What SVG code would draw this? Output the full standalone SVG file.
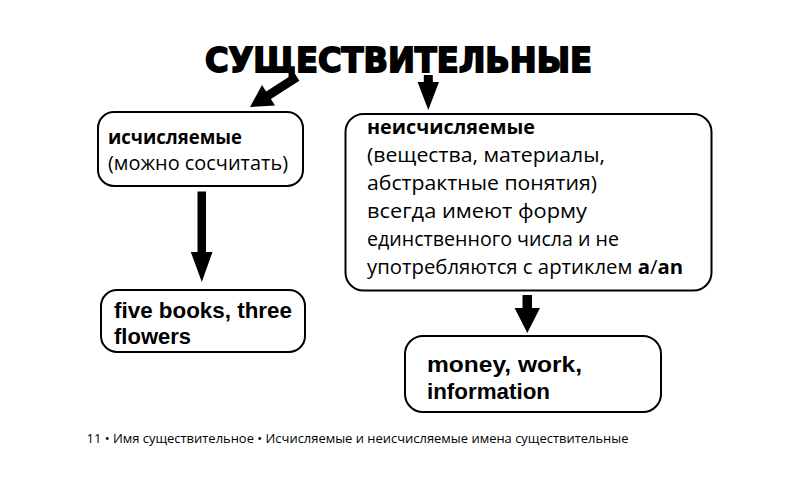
<svg xmlns="http://www.w3.org/2000/svg" width="800" height="495" viewBox="0 0 800 495">
<style>
.box{fill:#fff;stroke:#000;stroke-width:2}
.cy{font-family:"Open Sans","Noto Sans","DejaVu Sans",sans-serif;font-size:20px;fill:#000}
.cyb{font-weight:bold}
.lat{font-family:"Liberation Sans",Arial,sans-serif;font-weight:bold;font-size:22px;fill:#000}
.arr{fill:#000}
</style>
<rect width="800" height="495" fill="#fff"/>
<text id="title" x="205" y="71.5" textLength="387" lengthAdjust="spacingAndGlyphs" style="font-family:'DejaVu Sans',sans-serif;font-weight:bold;font-size:34px;fill:#000;stroke:#000;stroke-width:1.8">СУЩЕСТВИТЕЛЬНЫЕ</text>
<g id="connectors" class="arr">
<polygon points="294.6,73.2 266.1,91.4 262.0,84.9 250,107 275.0,105.5 270.9,99.0 299.4,80.8"/>
<polygon points="423.8,75 432.8,75 432.8,82 439,82 428.3,110 417.6,82 423.8,82"/>
<polygon points="197.5,191.5 206,191.5 206,252 212.5,252 201.8,282 190.8,252 197.5,252"/>
<polygon points="522.5,295 532,295 532,308 540,308 527.3,333 514.6,308 522.5,308"/>
</g>
<g id="countable">
<rect class="box" x="98" y="112" width="205" height="74" rx="16"/>
<text class="cy cyb" x="108" y="144" textLength="134" lengthAdjust="spacingAndGlyphs">исчисляемые</text>
<text class="cy" x="108" y="170" textLength="180" lengthAdjust="spacingAndGlyphs">(можно сосчитать)</text>
</g>
<g id="uncountable">
<rect class="box" x="345.5" y="114" width="366" height="176.5" rx="18"/>
<text class="cy cyb" x="367" y="134" textLength="168" lengthAdjust="spacingAndGlyphs">неисчисляемые</text>
<text class="cy" x="367" y="162" textLength="238" lengthAdjust="spacingAndGlyphs">(вещества, материалы,</text>
<text class="cy" x="367" y="190" textLength="230" lengthAdjust="spacingAndGlyphs">абстрактные понятия)</text>
<text class="cy" x="367" y="218" textLength="220" lengthAdjust="spacingAndGlyphs">всегда имеют форму</text>
<text class="cy" x="367" y="246" textLength="252" lengthAdjust="spacingAndGlyphs">единственного числа и не</text>
<text class="cy" x="367" y="274" textLength="316" lengthAdjust="spacingAndGlyphs">употребляются с артиклем <tspan font-weight="bold">a</tspan>/<tspan font-weight="bold">an</tspan></text>
</g>
<g id="countable-ex">
<rect class="box" x="101" y="290" width="204" height="62" rx="16"/>
<text class="lat" x="114" y="317.5" textLength="178" lengthAdjust="spacingAndGlyphs">five books, three</text>
<text class="lat" x="114" y="343.5">flowers</text>
</g>
<g id="uncountable-ex">
<rect class="box" x="405" y="336" width="256" height="76" rx="18"/>
<text class="lat" x="427" y="371.5" textLength="155" lengthAdjust="spacingAndGlyphs">money, work,</text>
<text class="lat" x="427" y="398.5" textLength="123" lengthAdjust="spacingAndGlyphs">information</text>
</g>
<text id="footer" x="86.5" y="442.5" textLength="542" lengthAdjust="spacingAndGlyphs" style="font-family:'Open Sans','Noto Sans',sans-serif;font-size:13.5px;fill:#000">11 • Имя существительное • Исчисляемые и неисчисляемые имена существительные</text>
</svg>
